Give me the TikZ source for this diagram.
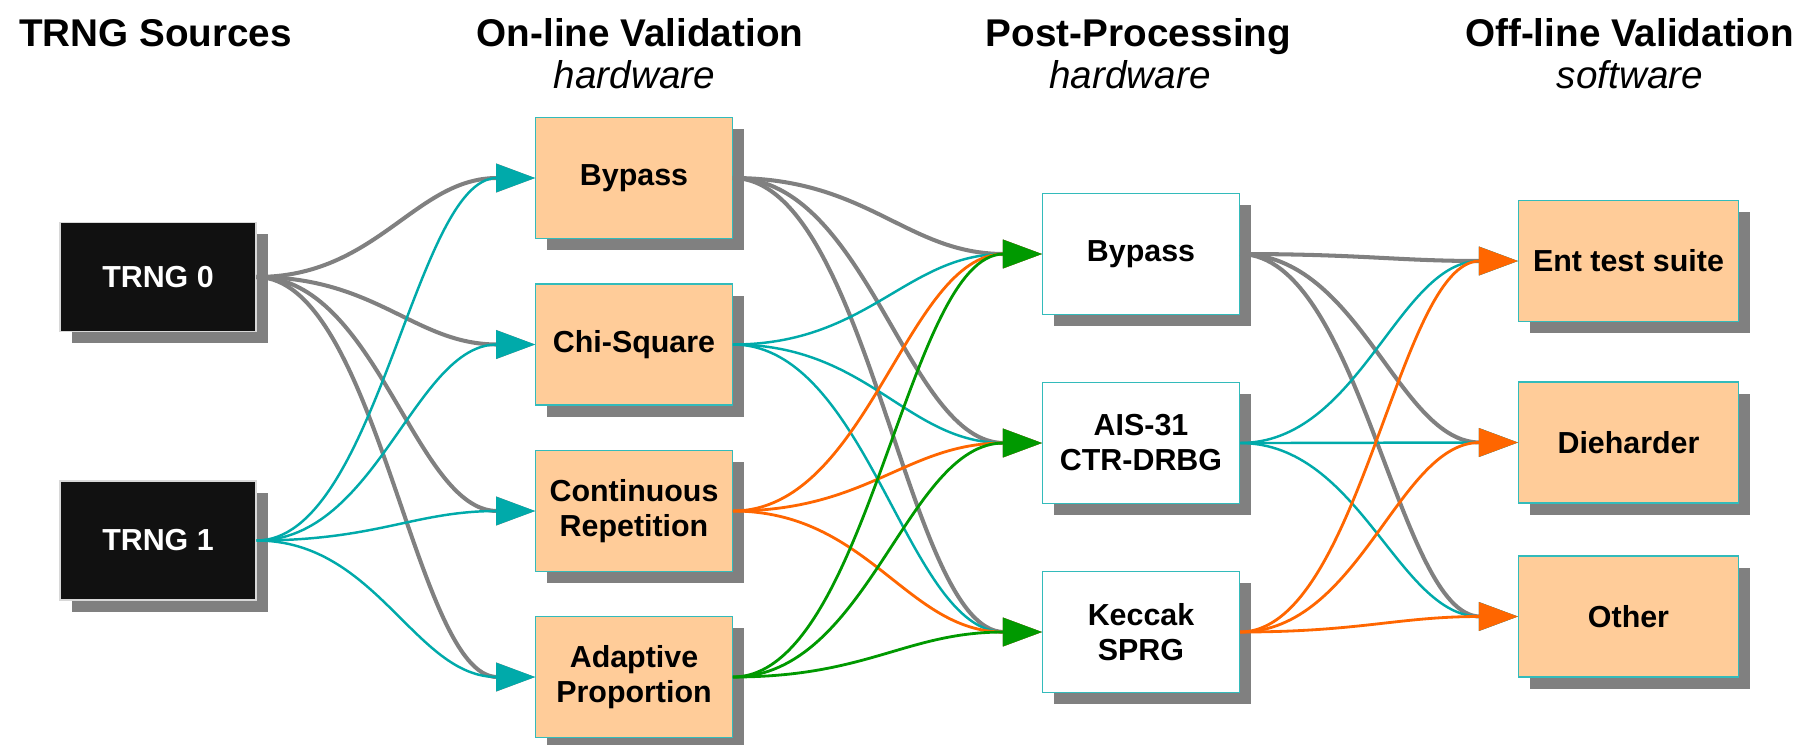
\documentclass[tikz,border=0pt]{standalone}
\usepackage{fontspec}
\setmainfont{Liberation Sans}
\usetikzlibrary{arrows.meta,shadows}

\definecolor{peach}{HTML}{FFCC99}
\definecolor{boxteal}{HTML}{33BBBB}
\definecolor{srcblack}{HTML}{111111}
\definecolor{srcedge}{HTML}{D8D8D8}
\definecolor{linkgray}{HTML}{808080}
\definecolor{linkteal}{HTML}{00AAAA}
\definecolor{linkorange}{HTML}{FF6600}
\definecolor{linkgreen}{HTML}{009900}

\newcommand\lblfont{\bfseries\fontsize{17.3}{19.9}\selectfont}
\newcommand\ttlfont{\fontsize{22}{26}\selectfont}

\begin{document}
\begin{tikzpicture}[
    box/.style={rectangle, draw=boxteal, line width=0.6pt, minimum height=2.42cm,
                align=center, font=\lblfont,
                drop shadow={shadow xshift=0.23cm, shadow yshift=-0.23cm, fill=linkgray, opacity=1}},
    srcbox/.style={box, fill=srcblack, draw=srcedge, text=white, minimum width=3.92cm},
    hwbox/.style={box, fill=peach, minimum width=3.93cm},
    ppbox/.style={box, fill=white, minimum width=3.94cm},
    swbox/.style={box, fill=peach, minimum width=4.40cm},
    heading/.style={anchor=base, font=\ttlfont},
    link/.style={-{Triangle[length=0.78cm,width=0.56cm]}},
    graylink/.style={link, draw=linkgray, line width=2.3pt},
    teallink/.style={link, draw=linkteal, line width=1.4pt},
    orangelink/.style={link, draw=linkorange, line width=1.6pt},
    greenlink/.style={link, draw=linkgreen, line width=1.6pt},
    gapA/.style={to path={.. controls +(2.41,0) and +(-2.41,0) .. (\tikztotarget)}},
    gapB/.style={to path={.. controls +(2.71,0) and +(-2.71,0) .. (\tikztotarget)}},
    gapC/.style={to path={.. controls +(2.40,0) and +(-2.40,0) .. (\tikztotarget)}}]

  \useasboundingbox (0,0) rectangle (36.1,-14.88);

  % column headings
  \node[heading] (hsrc) at (3.11,-0.934) {\textbf{TRNG Sources}};
  \node[heading] (hon) at (12.80,-0.934) {\textbf{On-line Validation}};
  \node[heading] (honsub) at (12.69,-1.766) {\textit{hardware}};
  \node[heading] (hpost) at (22.77,-0.934) {\textbf{Post-Processing}};
  \node[heading] (hpostsub) at (22.60,-1.766) {\textit{hardware}};
  \node[heading] (hoff) at (32.59,-0.934) {\textbf{Off-line Validation}};
  \node[heading] (hoffsub) at (32.60,-1.766) {\textit{software}};

  % sources
  \node[srcbox, minimum height=2.18cm] (T0) at (3.16,-5.54) {TRNG 0};
  \node[srcbox, minimum height=2.38cm] (T1) at (3.16,-10.81) {TRNG 1};

  % on-line tests
  \node[hwbox] (OB) at (12.68,-3.56) {Bypass};
  \node[hwbox] (OC) at (12.68,-6.89) {Chi-Square};
  \node[hwbox] (OR) at (12.68,-10.22) {Continuous\\Repetition};
  \node[hwbox] (OA) at (12.68,-13.54) {Adaptive\\Proportion};

  % post-processing
  \node[ppbox] (PB) at (22.82,-5.08) {Bypass};
  \node[ppbox] (PA) at (22.82,-8.86) {AIS-31\\CTR-DRBG};
  \node[ppbox] (PK) at (22.82,-12.64) {Keccak\\SPRG};

  % off-line tests
  \node[swbox] (FE) at (32.57,-5.22) {Ent test suite};
  \node[swbox] (FD) at (32.57,-8.85) {Dieharder};
  \node[swbox] (FO) at (32.57,-12.33) {Other};

  % sources -> on-line
  \draw[graylink, gapA] (T0.east) to (OB.west);
  \draw[graylink, gapA] (T0.east) to (OC.west);
  \draw[graylink, gapA] (T0.east) to (OR.west);
  \draw[graylink, gapA] (T0.east) to (OA.west);
  \draw[teallink, gapA] (T1.east) to (OB.west);
  \draw[teallink, gapA] (T1.east) to (OC.west);
  \draw[teallink, gapA] (T1.east) to (OR.west);
  \draw[teallink, gapA] (T1.east) to (OA.west);

  % on-line -> post-processing
  \draw[graylink, gapB] (OB.east) to (PB.west);
  \draw[graylink, gapB] (OB.east) to (PA.west);
  \draw[graylink, gapB] (OB.east) to (PK.west);
  \draw[teallink, gapB] (OC.east) to (PB.west);
  \draw[teallink, gapB] (OC.east) to (PA.west);
  \draw[teallink, gapB] (OC.east) to (PK.west);
  \draw[orangelink, gapB] (OR.east) to (PB.west);
  \draw[orangelink, gapB] (OR.east) to (PA.west);
  \draw[orangelink, gapB] (OR.east) to (PK.west);
  \draw[greenlink, gapB] (OA.east) to (PB.west);
  \draw[greenlink, gapB] (OA.east) to (PA.west);
  \draw[greenlink, gapB] (OA.east) to (PK.west);

  % post-processing -> off-line
  \draw[graylink, gapC] (PB.east) to (FE.west);
  \draw[graylink, gapC] (PB.east) to (FD.west);
  \draw[graylink, gapC] (PB.east) to (FO.west);
  \draw[teallink, gapC] (PA.east) to (FE.west);
  \draw[teallink, gapC] (PA.east) to (FD.west);
  \draw[teallink, gapC] (PA.east) to (FO.west);
  \draw[orangelink, gapC] (PK.east) to (FE.west);
  \draw[orangelink, gapC] (PK.east) to (FD.west);
  \draw[orangelink, gapC] (PK.east) to (FO.west);

\end{tikzpicture}
\end{document}
